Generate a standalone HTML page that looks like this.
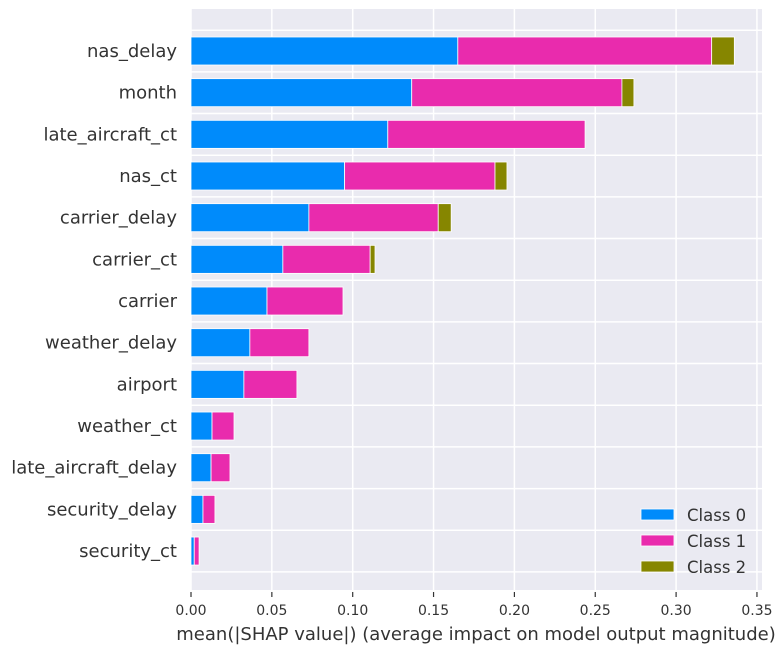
<!DOCTYPE html>
<html><head><meta charset="utf-8"><style>
body{margin:0;background:#fff;font-family:"Liberation Sans","DejaVu Sans",sans-serif}
svg text{font-family:"DejaVu Sans","Liberation Sans",sans-serif}
</style></head><body>
<svg id="chart" width="784" height="653" viewBox="0 0 784 653" xmlns="http://www.w3.org/2000/svg">
<rect x="191" y="9" width="571" height="581" fill="#eaeaf2"/>
<g id="grid"></g><g id="bars"></g><g id="axes"></g><g id="legend"></g>
</svg>
<script>
const features=["nas_delay","month","late_aircraft_ct","nas_ct","carrier_delay","carrier_ct","carrier","weather_delay","airport","weather_ct","late_aircraft_delay","security_delay","security_ct"];
const class0=[0.165,0.1365,0.1217,0.095,0.0729,0.0568,0.047,0.0364,0.0327,0.013,0.0124,0.0074,0.002];
const class1=[0.157,0.130,0.122,0.093,0.080,0.054,0.047,0.0365,0.0328,0.0136,0.0117,0.0074,0.003];
const class2=[0.014,0.0074,0,0.0074,0.008,0.003,0,0,0,0,0,0,0];
const xTicks=[0,0.05,0.1,0.15,0.2,0.25,0.3,0.35];
const xTickLabels=["0.00","0.05","0.10","0.15","0.20","0.25","0.30","0.35"];
const classNames=["Class 0","Class 1","Class 2"];
const colors=["#008bfb","#e92bad","#868600"];
const NS="http://www.w3.org/2000/svg";
const X=v=>191+v*1617;
const Y=i=>51+i*41.67;
function mk(t,a,p){const e=document.createElementNS(NS,t);for(const k in a)e.setAttribute(k,a[k]);p.appendChild(e);return e;}
const grid=document.getElementById('grid'),bars=document.getElementById('bars'),axes=document.getElementById('axes'),legend=document.getElementById('legend');
xTicks.forEach((t,i)=>{
  const l=mk('line',{x1:X(t),x2:X(t),y1:9,y2:590,stroke:'#fff','stroke-width':1.5},grid);
  
  
  const tk=mk('line',{x1:X(t),x2:X(t),y1:592,y2:597,stroke:'#333','stroke-width':1.2},axes);
  
  
  const tx=mk('text',{x:X(t),y:615,'text-anchor':'middle','font-size':14,fill:'#333'},axes);
  tx.textContent=xTickLabels[i];
  
  
});
for(let i=0;i<=features.length;i++){
  const l=mk('line',{x1:191,x2:762,y1:Y(i)-20.8,y2:Y(i)-20.8,stroke:'#fff','stroke-width':1.5},grid);
  
  
}
features.forEach((f,i)=>{
  const vals=[class0[i],class1[i],class2[i]];let acc=0;
  vals.forEach((v,c)=>{
    if(v>0){
      const r=mk('rect',{x:X(acc),y:Y(i)-14,width:X(acc+v)-X(acc),height:28,fill:colors[c],stroke:'#fff','stroke-width':0.8},bars);
      
      
    }
    acc+=v;
  });
  const t=mk('text',{x:177,y:Y(i)+6,'text-anchor':'end','font-size':18,fill:'#333'},axes);
  t.textContent=f;
  
  
});
const xt=mk('text',{x:476,y:640,'text-anchor':'middle','font-size':18,fill:'#333'},axes);
xt.textContent="mean(|SHAP value|) (average impact on model output magnitude)";


classNames.forEach((n,c)=>{
  const y=515+c*26;
  const r=mk('rect',{x:641,y:y-6,width:33,height:11,fill:colors[c],stroke:'#fff','stroke-width':0.8},legend);
  
  
  const t=mk('text',{x:687,y:y+6,'font-size':16.5,fill:'#333'},legend);
  t.textContent=n;
  
  
});
</script>
</body></html>
